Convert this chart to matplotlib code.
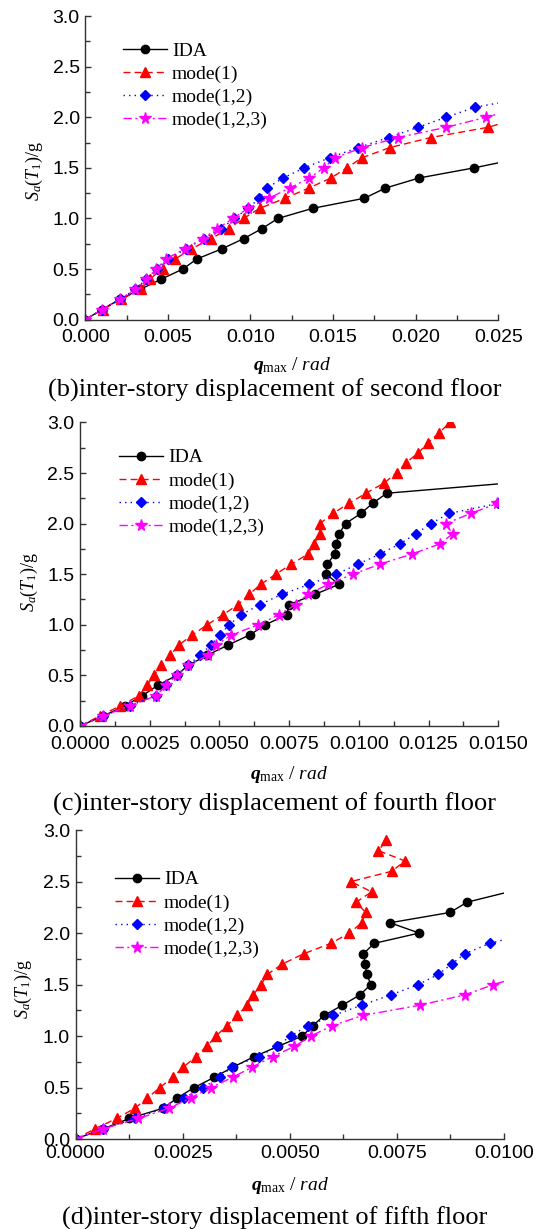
import numpy as np
import matplotlib
matplotlib.use('Agg')
import matplotlib.pyplot as plt
from matplotlib.ticker import MultipleLocator, FormatStrFormatter

plt.rcParams['mathtext.fontset'] = 'custom'
plt.rcParams['mathtext.rm'] = 'Liberation Serif'
plt.rcParams['mathtext.it'] = 'Liberation Serif:italic'
plt.rcParams['mathtext.bf'] = 'Liberation Serif:bold'
plt.rcParams['mathtext.bfit'] = 'Liberation Serif:italic:bold'

########################### DATA ###########################
labels = ['IDA', 'mode(1)', 'mode(1,2)', 'mode(1,2,3)']
captions = ['(b)inter-story displacement of second floor',
            '(c)inter-story displacement of fourth floor',
            '(d)inter-story displacement of fifth floor']

# (b) second floor
b_ida_x = [0, 0.00101, 0.00208, 0.00333, 0.0046, 0.0059, 0.00676, 0.00827, 0.00958, 0.0107,
           0.01166, 0.01376, 0.0169, 0.01816, 0.0202, 0.02353, 0.0265]
b_ida_y = [0, 0.1, 0.2, 0.3, 0.4, 0.5, 0.6, 0.7, 0.8, 0.9, 1.0, 1.1, 1.2, 1.3, 1.4, 1.5, 1.6]
b_m1_x = [0, 0.00105, 0.00216, 0.00337, 0.00389, 0.00468, 0.00545, 0.00642, 0.00761, 0.00868,
          0.00958, 0.01055, 0.0121, 0.01352, 0.01487, 0.01584, 0.01675, 0.01842, 0.02092, 0.02435, 0.0265]
b_m1_y = [0, 0.1, 0.2, 0.3, 0.4, 0.5, 0.6, 0.7, 0.8, 0.9, 1.0, 1.1, 1.2, 1.3, 1.4, 1.5, 1.6,
          1.7, 1.8, 1.9, 2.0]
b_m12_x = [0, 0.001, 0.00208, 0.00303, 0.00369, 0.00434, 0.00498, 0.00611, 0.00716, 0.00823,
           0.00902, 0.00985, 0.01053, 0.011, 0.01197, 0.01325, 0.01479, 0.01651, 0.01836, 0.02012,
           0.02183, 0.02361, 0.0270]
b_m12_y = [0, 0.1, 0.2, 0.3, 0.4, 0.5, 0.6, 0.7, 0.8, 0.9, 1.0, 1.1, 1.2, 1.3, 1.4, 1.5, 1.6,
           1.7, 1.8, 1.9, 2.0, 2.1, 2.2]
b_m123_x = [0, 0.001, 0.00208, 0.003, 0.0037, 0.0043, 0.00489, 0.00603, 0.0071, 0.008,
            0.00894, 0.00985, 0.0111, 0.01237, 0.01356, 0.01443, 0.01513, 0.01675, 0.01893, 0.02183,
            0.02425, 0.0265]
b_m123_y = [0, 0.1, 0.2, 0.3, 0.4, 0.5, 0.6, 0.7, 0.8, 0.9, 1.0, 1.1, 1.2, 1.3, 1.4, 1.5, 1.6,
            1.7, 1.8, 1.9, 2.0, 2.1]

# (c) fourth floor
c_ida_x = [0, 0.00084, 0.00162, 0.00224, 0.00278, 0.00346, 0.00388, 0.00457, 0.00531, 0.00609,
           0.00665, 0.00741, 0.0075, 0.00842, 0.00929, 0.00882, 0.00886, 0.00914, 0.00918, 0.00929,
           0.00952, 0.01007, 0.01049, 0.011, 0.0175]
c_ida_y = [0, 0.1, 0.2, 0.3, 0.4, 0.5, 0.6, 0.7, 0.8, 0.9, 1.0, 1.1, 1.2, 1.3, 1.4, 1.5, 1.6,
           1.7, 1.8, 1.9, 2.0, 2.1, 2.2, 2.3, 2.45]
c_m1_x = [0, 0.00072, 0.00145, 0.00212, 0.0024, 0.00265, 0.00289, 0.00324, 0.00354, 0.00403,
          0.00456, 0.00513, 0.00567, 0.00606, 0.00648, 0.00702, 0.00758, 0.00818, 0.0084, 0.0086,
          0.0086, 0.00906, 0.00965, 0.01025, 0.0109, 0.01135, 0.01169, 0.01213, 0.01249, 0.01288,
          0.01327]
c_m1_y = [0, 0.1, 0.2, 0.3, 0.4, 0.5, 0.6, 0.7, 0.8, 0.9, 1.0, 1.1, 1.2, 1.3, 1.4, 1.5, 1.6,
          1.7, 1.8, 1.9, 2.0, 2.1, 2.2, 2.3, 2.4, 2.5, 2.6, 2.7, 2.8, 2.9, 3.0]
c_m12_x = [0, 0.00084, 0.00178, 0.00274, 0.00308, 0.00346, 0.00388, 0.0043, 0.00469, 0.00502,
           0.00535, 0.00579, 0.00645, 0.00723, 0.00822, 0.00918, 0.00998, 0.01076, 0.01147, 0.01205,
           0.01258, 0.01323, 0.0150]
c_m12_y = [0, 0.1, 0.2, 0.3, 0.4, 0.5, 0.6, 0.7, 0.8, 0.9, 1.0, 1.1, 1.2, 1.3, 1.4, 1.5, 1.6,
           1.7, 1.8, 1.9, 2.0, 2.1, 2.2]
c_m123_x = [0, 0.00084, 0.00178, 0.00274, 0.00308, 0.00346, 0.00388, 0.00459, 0.00489, 0.00543,
            0.00639, 0.00714, 0.00774, 0.00816, 0.0089, 0.00978, 0.01077, 0.01191, 0.01291, 0.01336,
            0.01311, 0.01401, 0.01497]
c_m123_y = [0, 0.1, 0.2, 0.3, 0.4, 0.5, 0.6, 0.7, 0.8, 0.9, 1.0, 1.1, 1.2, 1.3, 1.4, 1.5, 1.6,
            1.7, 1.8, 1.9, 2.0, 2.1, 2.2]

# (d) fifth floor
d_ida_x = [0, 0.00065, 0.00126, 0.00205, 0.00238, 0.00277, 0.00324, 0.00368, 0.00417, 0.00473,
           0.00529, 0.00554, 0.0058, 0.00623, 0.00664, 0.00689, 0.0068, 0.00676, 0.00672, 0.00697,
           0.00802, 0.00734, 0.00874, 0.00914, 0.0105]
d_ida_y = [0, 0.1, 0.2, 0.3, 0.4, 0.5, 0.6, 0.7, 0.8, 0.9, 1.0, 1.1, 1.2, 1.3, 1.4, 1.5, 1.6,
           1.7, 1.8, 1.9, 2.0, 2.1, 2.2, 2.3, 2.44]
d_m1_x = [0, 0.00046, 0.00096, 0.00139, 0.00168, 0.00197, 0.00227, 0.00252, 0.00281, 0.00306,
          0.00328, 0.00353, 0.00378, 0.004, 0.00415, 0.00433, 0.00448, 0.00483, 0.00533, 0.00596,
          0.00639, 0.00668, 0.00677, 0.00655, 0.00691, 0.00643, 0.00738, 0.00769, 0.00707, 0.00725]
d_m1_y = [0, 0.1, 0.2, 0.3, 0.4, 0.5, 0.6, 0.7, 0.8, 0.9, 1.0, 1.1, 1.2, 1.3, 1.4, 1.5, 1.6,
          1.7, 1.8, 1.9, 2.0, 2.1, 2.2, 2.3, 2.4, 2.5, 2.6, 2.7, 2.8, 2.9]
d_m12_x = [0, 0.00065, 0.00139, 0.00207, 0.00254, 0.00298, 0.00337, 0.00365, 0.00428, 0.0047,
           0.00502, 0.00542, 0.00602, 0.00668, 0.00736, 0.008, 0.00847, 0.00878, 0.00909, 0.00967,
           0.0106]
d_m12_y = [0, 0.1, 0.2, 0.3, 0.4, 0.5, 0.6, 0.7, 0.8, 0.9, 1.0, 1.1, 1.2, 1.3, 1.4, 1.5, 1.6,
           1.7, 1.8, 1.9, 2.0]
d_m123_x = [0, 0.00065, 0.00147, 0.00219, 0.00269, 0.00316, 0.00367, 0.00413, 0.0046, 0.00511,
            0.00549, 0.00599, 0.0067, 0.00804, 0.00909, 0.00975, 0.0106]
d_m123_y = [0, 0.1, 0.2, 0.3, 0.4, 0.5, 0.6, 0.7, 0.8, 0.9, 1.0, 1.1, 1.2, 1.3, 1.4, 1.5, 1.6]
#############################################################

styles = [dict(color='black', ls='-', marker='o', ms=6),
          dict(color='#ff0000', ls=(0, (5, 3)), marker='^', ms=7),
          dict(color='#0000ff', ls=(0, (1, 3)), marker='D', ms=5.5),
          dict(color='#ff00ff', ls=(0, (6, 2.5, 1.5, 2.5)), marker='*', ms=8.5)]

panels = [
    dict(data=[(b_ida_x, b_ida_y), (b_m1_x, b_m1_y), (b_m12_x, b_m12_y), (b_m123_x, b_m123_y)],
         rect=[0.1588, 0.7399, 0.7691, 0.2470], xmax=0.025, xmaj=0.005, xmin=0.0025, fmt='%.3f',
         leg=(0.091, 0.915), ylab=(-0.124, 0.489), xlab=-0.1495, cap=0.6827, xpad=7),
    dict(data=[(c_ida_x, c_ida_y), (c_m1_x, c_m1_y), (c_m12_x, c_m12_y), (c_m123_x, c_m123_y)],
         rect=[0.1490, 0.4093, 0.7790, 0.2470], xmax=0.015, xmaj=0.0025, xmin=0.00125, fmt='%.4f',
         leg=(0.094, 0.913), ylab=(-0.122, 0.473), xlab=-0.161, cap=0.3458, xpad=7.5),
    dict(data=[(d_ida_x, d_ida_y), (d_m1_x, d_m1_y), (d_m12_x, d_m12_y), (d_m123_x, d_m123_y)],
         rect=[0.1406, 0.0732, 0.7980, 0.2514], xmax=0.010, xmaj=0.0025, xmin=0.00125, fmt='%.4f',
         leg=(0.092, 0.868), ylab=(-0.122, 0.485), xlab=-0.149, cap=0.0090, xpad=4.5),
]

fig = plt.figure(figsize=(5.37, 12.29), dpi=100)

for i, p in enumerate(panels):
    ax = fig.add_axes(p['rect'])
    for (xs, ys), st, lab in zip(p['data'], styles, labels):
        ax.plot(xs, ys, color=st['color'], ls=st['ls'], lw=1.0, marker=st['marker'],
                ms=st['ms'], mec=st['color'], mfc=st['color'], label=lab)
    ax.set_xlim(0, p['xmax'])
    ax.set_ylim(0, 3.0)
    ax.spines['top'].set_visible(False)
    ax.spines['right'].set_visible(False)
    for s in ['left', 'bottom']:
        ax.spines[s].set_color('#333333')
        ax.spines[s].set_linewidth(1.0)
    ax.xaxis.set_major_locator(MultipleLocator(p['xmaj']))
    ax.xaxis.set_minor_locator(MultipleLocator(p['xmin']))
    ax.yaxis.set_major_locator(MultipleLocator(0.5))
    ax.yaxis.set_minor_locator(MultipleLocator(0.25))
    ax.xaxis.set_major_formatter(FormatStrFormatter(p['fmt']))
    ax.yaxis.set_major_formatter(FormatStrFormatter('%.1f'))
    ax.tick_params(which='both', direction='in', color='#333333', width=1.0)
    ax.tick_params(which='major', length=4.5)
    ax.tick_params(which='minor', length=3.5)
    ax.tick_params(axis='y', pad=4)
    ax.tick_params(axis='x', pad=p['xpad'])
    for t in ax.get_xticklabels() + ax.get_yticklabels():
        t.set_fontfamily('Liberation Sans')
        t.set_fontsize(14)

    ax.set_xlabel(r'$\mathbfit{q}_{\mathrm{max}}\ /\ rad$', fontsize=14, va='center')
    ax.xaxis.set_label_coords(0.5, p['xlab'])
    ax.set_ylabel(r'$S_a(T_1)/\mathrm{g}$', fontsize=13, va='center')
    ax.yaxis.set_label_coords(p['ylab'][0], p['ylab'][1])

    ax.legend(loc='upper left', bbox_to_anchor=p['leg'], frameon=False, borderpad=0,
              borderaxespad=0, handlelength=2.27, handletextpad=0.25, labelspacing=0.28,
              numpoints=1, prop={'family': 'Liberation Serif', 'size': 14})

    fig.text(0.511, p['cap'], captions[i], ha='center', va='center',
             family='Liberation Serif', fontsize=19)

fig.savefig('out.png', dpi=100)
